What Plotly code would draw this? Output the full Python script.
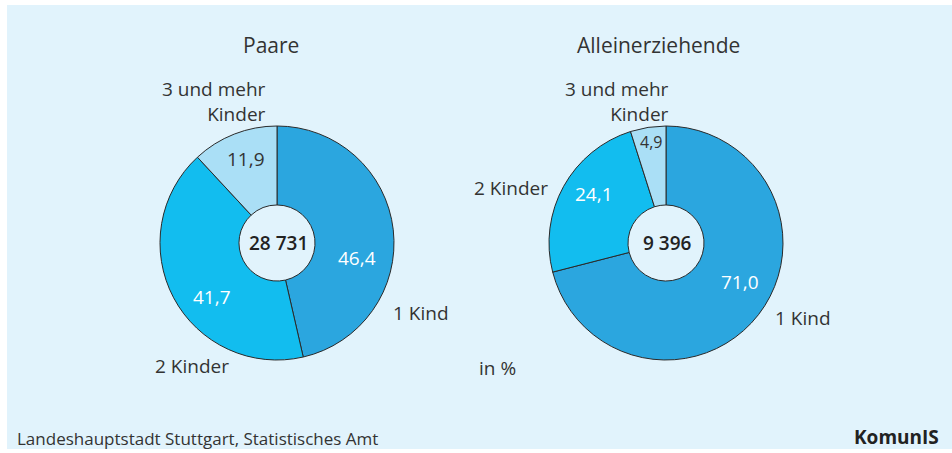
import plotly.graph_objects as go

W, H = 952, 453

categories = ["1 Kind", "2 Kinder", "3 und mehr Kinder"]
paare_values = [46.4, 41.7, 11.9]
allein_values = [71.0, 24.1, 4.9]
paare_total = "28 731"
allein_total = "9 396"
titles = ["Paare", "Alleinerziehende"]

colors = ["#2ba6df", "#12bdef", "#aadff6"]
value_colors = ["white", "white", "#333333"]
FONT = "Open Sans"
TXT = "#333333"
BG = "#e1f3fc"


def px(x, y):
    return x / W, 1 - y / H


def fmt(v):
    return f"{v:.1f}".replace(".", ",")


def pie_domain(cx, cy, r):
    return dict(x=[(cx - r) / W, (cx + r) / W], y=[1 - (cy + r) / H, 1 - (cy - r) / H])


fig = go.Figure()

for vals, (cx, cy) in [
    (paare_values, (277, 243)),
    (allein_values, (666, 243)),
]:
    fig.add_trace(go.Pie(
        labels=categories,
        values=vals,
        textinfo="none",
        marker=dict(colors=colors, line=dict(color="#2a2a2a", width=1)),
        hole=0.325,
        sort=False,
        direction="clockwise",
        rotation=0,
        domain=pie_domain(cx, cy, 117),
        showlegend=False,
        hoverinfo="label+percent",
    ))

annotations = []


def ann(text, x, y, size=19, xanchor="center", align="center", weight="normal", color=TXT):
    ax, ay = px(x, y)
    annotations.append(dict(
        text=text,
        x=ax, y=ay, xref="paper", yref="paper",
        xanchor=xanchor, yanchor="middle", align=align, showarrow=False,
        font=dict(family=FONT, size=size, color=color, weight=weight),
    ))


# titles
ann(titles[0], 271, 45, size=21)
ann(titles[1], 658, 45, size=21)
# centers
ann(paare_total, 278, 243, size=19, weight=600, color="#222222")
ann(allein_total, 667, 243, size=19, weight=600, color="#222222")
# slice values - Paare
paare_pos = [(357, 258), (212, 297), (246, 159)]
for v, (x, y), c in zip(paare_values, paare_pos, value_colors):
    ann(fmt(v), x, y, size=19, color=c)
# slice values - Alleinerziehende
allein_pos = [(740, 282), (594, 194), (651, 142)]
allein_sizes = [19, 19, 16]
for v, (x, y), c, s in zip(allein_values, allein_pos, value_colors, allein_sizes):
    ann(fmt(v), x, y, size=s, color=c)
# category labels - Paare
ann("3 und mehr<br>Kinder", 268, 101, xanchor="right", align="right")
ann(categories[0], 421, 313, xanchor="center")
ann(categories[1], 192, 366, xanchor="center")
# category labels - Alleinerziehende
ann("3 und mehr<br>Kinder", 671, 101, xanchor="right", align="right")
ann(categories[0], 803, 318, xanchor="center")
ann(categories[1], 511, 188, xanchor="center")
# unit
ann("in %", 497, 368)
# footer
ann("Landeshauptstadt Stuttgart, Statistisches Amt", 15, 438, size=17, xanchor="left", align="left")
ann("KomunIS", 941, 437, size=19, xanchor="right", weight="bold", color="#222222")

fig.update_layout(
    width=W, height=H,
    margin=dict(l=0, r=0, t=0, b=0),
    paper_bgcolor="white",
    plot_bgcolor="white",
    annotations=annotations,
    shapes=[dict(type="rect", xref="paper", yref="paper",
                 x0=7 / W, x1=1, y0=1 - 449 / H, y1=1 - 5 / H,
                 fillcolor=BG, line=dict(width=0), layer="below")],
)

fig.write_html(
    "out.html",
    config={"displayModeBar": False},
    post_script="document.body.style.margin='0';document.body.style.overflow='hidden';",
)
